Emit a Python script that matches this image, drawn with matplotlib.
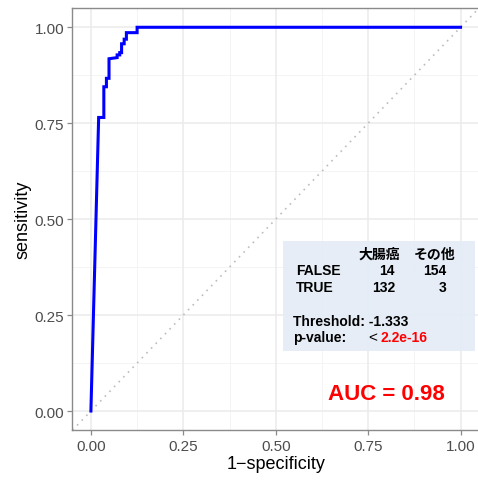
import matplotlib
matplotlib.use("Agg")
import matplotlib.pyplot as plt
from matplotlib.patches import Rectangle

plt.rcParams['font.family'] = ['Liberation Sans', 'Noto Sans CJK JP', 'DejaVu Sans']

# ROC curve vertices
fpr = [0.0, 0.021, 0.035, 0.035, 0.042, 0.042, 0.049, 0.049, 0.071, 0.071,
       0.078, 0.078, 0.083, 0.083, 0.090, 0.090, 0.096, 0.096, 0.125, 0.125, 1.0]
tpr = [0.0, 0.765, 0.765, 0.845, 0.845, 0.867, 0.867, 0.918, 0.921, 0.928,
       0.928, 0.934, 0.934, 0.957, 0.957, 0.969, 0.969, 0.986, 0.986, 1.0, 1.0]

ticks = [0.0, 0.25, 0.5, 0.75, 1.0]
tick_labels = ["0.00", "0.25", "0.50", "0.75", "1.00"]
minor = [0.125, 0.375, 0.625, 0.875]

col_names = ["大腸癌", "その他"]
row_names = ["FALSE", "TRUE"]
table = [[14, 154], [132, 3]]
threshold = "-1.333"
pvalue = "2.2e-16"
auc = 0.98

fig = plt.figure(figsize=(4.78, 4.81), dpi=100)
ax = fig.add_axes([0.1515, 0.1035, 0.8506, 0.8776])

ax.set_xlim(-0.05, 1.05)
ax.set_ylim(-0.05, 1.05)

# grid like theme_bw
for v in minor:
    ax.axvline(v, color='#F2F2F2', lw=0.6, zorder=0)
    ax.axhline(v, color='#F2F2F2', lw=0.6, zorder=0)
for v in ticks:
    ax.axvline(v, color='#EBEBEB', lw=1.1, zorder=0)
    ax.axhline(v, color='#EBEBEB', lw=1.1, zorder=0)

ax.plot([-0.05, 1.05], [-0.05, 1.05], color='#BDBDBD', ls=(0, (1, 3)), lw=1.2, zorder=1)
ax.plot(fpr, tpr, color='#0000FF', lw=2.2, zorder=3, solid_joinstyle='miter')

# confusion table box
ax.add_patch(Rectangle((0.52, 0.156), 0.519, 0.287, facecolor='#E4ECF7', edgecolor='none',
                       alpha=0.92, zorder=2))
fs = 10
ax.text(0.7815, 0.409, col_names[0], ha='center', va='center', fontsize=fs, fontweight='bold', zorder=4)
ax.text(0.931, 0.409, col_names[1], ha='center', va='center', fontsize=fs, fontweight='bold', zorder=4)
row_y = [0.367, 0.324]
for i in range(2):
    ax.text(0.555, row_y[i], row_names[i], ha='left', va='center', fontsize=fs, fontweight='bold', zorder=4)
    ax.text(0.823, row_y[i], str(table[i][0]), ha='right', va='center', fontsize=fs, fontweight='bold', zorder=4)
    ax.text(0.963, row_y[i], str(table[i][1]), ha='right', va='center', fontsize=fs, fontweight='bold', zorder=4)
ax.text(0.548, 0.234, "Threshold: " + threshold, ha='left', va='center', fontsize=fs, fontweight='bold', zorder=4)
ax.text(0.548, 0.192, "p-value:", ha='left', va='center', fontsize=fs, fontweight='bold', zorder=4)
ax.text(0.762, 0.192, "<", ha='center', va='center', fontsize=fs + 1, zorder=4)
ax.text(0.784, 0.192, pvalue, ha='left', va='center', fontsize=fs, fontweight='bold', color='#FF0000', zorder=4)

ax.text(0.80, 0.045, "AUC = %.2f" % auc, ha='center', va='center', fontsize=16,
        fontweight='bold', color='#FF0000', zorder=4)

ax.set_xticks(ticks)
ax.set_xticklabels(tick_labels)
ax.set_yticks(ticks)
ax.set_yticklabels(tick_labels)
ax.tick_params(axis='both', colors='#8A8A8A', labelcolor='#4D4D4D', labelsize=11, length=3.5, width=0.9, pad=2.5)
for s in ax.spines.values():
    s.set_color('#8A8A8A')
    s.set_linewidth(1.0)

ax.set_xlabel("1\u2212specificity", fontsize=13, labelpad=2)
ax.set_ylabel("sensitivity", fontsize=13, labelpad=2)

fig.savefig("out.png", dpi=100)
